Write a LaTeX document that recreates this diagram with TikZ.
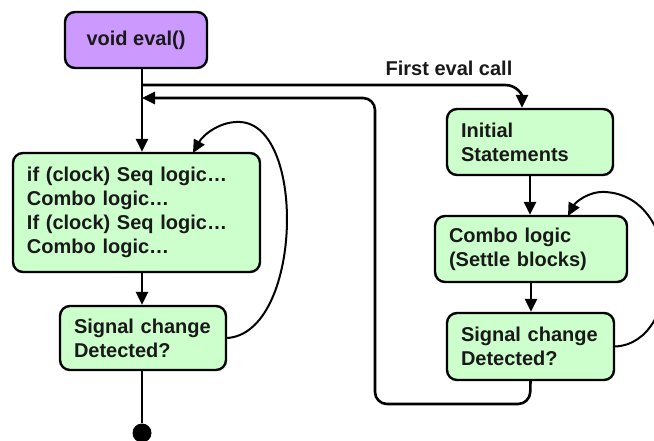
\documentclass[tikz,border=0pt]{standalone}
\usepackage{fontspec}
\setmainfont{Liberation Sans}
\usetikzlibrary{arrows.meta}
\definecolor{boxgreen}{HTML}{CCFFCC}
\definecolor{boxpurple}{HTML}{CC99FF}
\begin{document}
\begin{tikzpicture}[x=1pt,y=-1pt,
  every node/.style={font=\fontsize{20}{24}\selectfont\bfseries, text=black!90},
  stepbox/.style={draw, line width=2.4pt, rounded corners=10pt, fill=boxgreen,
    align=left, inner xsep=14pt, inner ysep=0pt},
  flow/.style={line width=2.6pt, -{Triangle[length=13pt,width=12pt]}},
  loop/.style={line width=2pt, -{Triangle[length=13pt,width=12pt]}}]
\useasboundingbox (0,0) rectangle (654,441);

% boxes
\node[draw, line width=2.4pt, rounded corners=10pt, fill=boxpurple,
  minimum width=142pt, minimum height=56pt] (eval) at (136,40) {void eval()};
\node[stepbox, text width=219pt, minimum height=119pt] (main) at (136.5,212.5)
  {if (clock) Seq logic…\\Combo logic…\\If (clock) Seq logic…\\Combo logic…};
\node[stepbox, text width=138pt, minimum height=64pt] (sigL) at (143,338)
  {Signal change\\Detected?};
\node[stepbox, text width=138pt, minimum height=66pt] (init) at (530,142)
  {Initial\\Statements};
\node[stepbox, text width=164pt, minimum height=66pt] (combo) at (531,249)
  {Combo logic\\(Settle blocks)};
\node[stepbox, text width=139pt, minimum height=67pt] (sigR) at (530.5,346.5)
  {Signal change\\Detected?};

% junction points on the trunk below eval()
\coordinate (trunk) at ([xshift=6pt]eval.south);
\coordinate (split) at (142,85);
\coordinate (rejoin) at (142,98);
\coordinate (initin) at (522,0);
\coordinate (mainin) at (142,0);
\node[circle, fill=black, inner sep=0pt, minimum size=19pt] (stop) at (142,433) {};

% main trunk
\draw[flow] (trunk) -- (mainin |- main.north);
\draw[flow] (mainin |- main.south) -- (mainin |- sigL.north);
\draw[line width=2.6pt] (mainin |- sigL.south) -- (stop);

% first eval call branch
\draw[flow] (split) -- (505,85) .. controls (517,85) and (522,95) .. (initin |- init.north);
\node at (449,68) {First eval call};

% right-hand chain
\draw[flow] (init.south) -- (init.south |- combo.north);
\draw[flow] (combo.south) -- (combo.south |- sigR.north);

% return path back to the trunk
\draw[flow, rounded corners=12pt] (sigR.south) -- (530,404) -- (375,404) -- (375,98) -- (rejoin);

% settle loops
\draw[loop] (sigR.east) .. controls (684,343) and (684,196) .. (605,192)
  .. controls (588,191) and (575,203) .. (568,216);
\draw[loop] (sigL.east) .. controls (302,333) and (307,125) .. (240,122)
  .. controls (220,121) and (203,135) .. (193,153);
\end{tikzpicture}
\end{document}
